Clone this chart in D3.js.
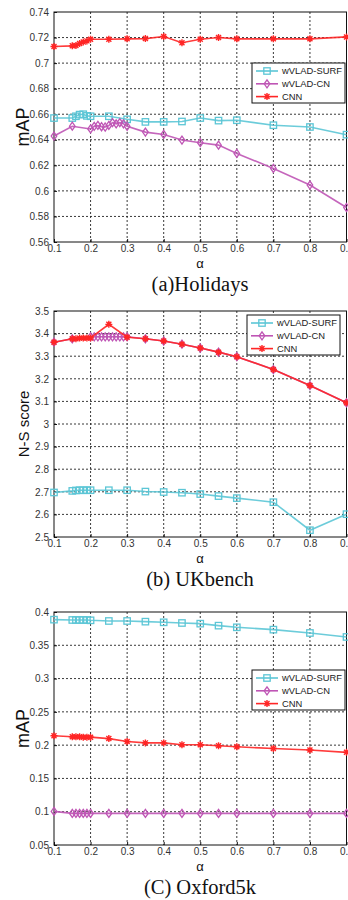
<!DOCTYPE html>
<html>
<head>
<meta charset="utf-8">
<script src="https://cdn.jsdelivr.net/npm/d3@7"></script>
<style>
  body { margin: 0; background: #fff; }
  svg { display: block; }
  .tick-lbl { font-family: 'Liberation Sans', Arial, sans-serif; font-size: 10px; fill: #333; }
  .leg-lbl { font-family: 'Liberation Sans', Arial, sans-serif; font-size: 9.4px; fill: #222; }
  .ylab { font-family: 'Liberation Sans', Arial, sans-serif; fill: #111; }
  .title { font-family: 'Liberation Serif', 'Times New Roman', serif; font-size: 20.5px; fill: #111; }
</style>
</head>
<body>
<div id="chart"></div>
<script>
// x positions (alpha)
const alphaMain = [0.1, 0.15, 0.16, 0.17, 0.18, 0.19, 0.2, 0.25, 0.3, 0.35, 0.4, 0.45, 0.5, 0.55, 0.6, 0.7, 0.8, 0.9]
const alphaDense = [0.1, 0.15, 0.2, 0.21, 0.22, 0.23, 0.24, 0.25, 0.26, 0.27, 0.28, 0.29, 0.3, 0.35, 0.4, 0.45, 0.5, 0.55, 0.6, 0.7, 0.8, 0.9]
const xTicks = [0.1, 0.2, 0.3, 0.4, 0.5, 0.6, 0.7, 0.8, 0.9]

// (a) Holidays
const holSurf = [0.657, 0.657, 0.6584, 0.6597, 0.660, 0.6587, 0.6584, 0.6584, 0.656, 0.654, 0.654, 0.6543, 0.657, 0.655, 0.6553, 0.6514, 0.650, 0.644]
const holCN = [0.6429, 0.6506, 0.6485, 0.6505, 0.6512, 0.6502, 0.650, 0.6512, 0.6535, 0.6525, 0.6535, 0.6525, 0.6505, 0.646, 0.6442, 0.6398, 0.6377, 0.6358, 0.6293, 0.6176, 0.6046, 0.587]
const holCNN = [0.713, 0.7135, 0.7137, 0.7153, 0.7166, 0.7174, 0.7187, 0.7187, 0.719, 0.7192, 0.7208, 0.716, 0.7187, 0.720, 0.719, 0.719, 0.719, 0.7205]
const holTicks = [0.56, 0.58, 0.6, 0.62, 0.64, 0.66, 0.68, 0.7, 0.72, 0.74]

// (b) UKbench
const ukbSurf = [2.697, 2.704, 2.706, 2.707, 2.707, 2.707, 2.707, 2.707, 2.707, 2.701, 2.699, 2.696, 2.69, 2.681, 2.672, 2.654, 2.53, 2.601]
const ukbCN = [3.362, 3.377, 3.386, 3.386, 3.386, 3.386, 3.386, 3.386, 3.386, 3.386, 3.386, 3.386, 3.386, 3.377, 3.367, 3.353, 3.336, 3.318, 3.298, 3.241, 3.17, 3.094]
const ukbCNN = [3.362, 3.377, 3.377, 3.38, 3.38, 3.38, 3.381, 3.441, 3.384, 3.377, 3.367, 3.353, 3.336, 3.318, 3.298, 3.241, 3.17, 3.094]
const ukbTicks = [2.5, 2.6, 2.7, 2.8, 2.9, 3, 3.1, 3.2, 3.3, 3.4, 3.5]

// (C) Oxford5k
const oxfSurf = [0.3885, 0.388, 0.388, 0.388, 0.388, 0.388, 0.3875, 0.3865, 0.3865, 0.3855, 0.3845, 0.3835, 0.3825, 0.3795, 0.377, 0.3735, 0.3685, 0.3625]
const oxfCN = [0.1005, 0.0975, 0.0975, 0.0975, 0.0975, 0.0975, 0.0975, 0.0975, 0.0975, 0.0975, 0.0975, 0.0975, 0.0975, 0.0975, 0.0975, 0.0975, 0.0975, 0.0975]
const oxfCNN = [0.214, 0.2125, 0.2125, 0.2125, 0.212, 0.212, 0.212, 0.2098, 0.2054, 0.2034, 0.2034, 0.2005, 0.2005, 0.199, 0.1975, 0.195, 0.1926, 0.1892]
const oxfTicks = [0.05, 0.1, 0.15, 0.2, 0.25, 0.3, 0.35, 0.4]

const seriesNames = ['wVLAD-SURF', 'wVLAD-CN', 'CNN']
const colors = { 'wVLAD-SURF': '#5cc6d6', 'wVLAD-CN': '#bf55b5', CNN: '#ff2626' }

const svg = d3.select('#chart')
  .append('svg')
  .attr('width', 348)
  .attr('height', 900)

// draw one marker of a series at (0,0) inside g
function marker (g, name) {
  const c = colors[name]
  if (name === 'wVLAD-SURF') {
    g.append('rect').attr('x', -3.2).attr('y', -3.2).attr('width', 6.4).attr('height', 6.4)
      .attr('fill', 'none').attr('stroke', c).attr('stroke-width', 1.3)
  } else if (name === 'wVLAD-CN') {
    g.append('path').attr('d', 'M0,-4L2.8,0L0,4L-2.8,0Z')
      .attr('fill', 'none').attr('stroke', c).attr('stroke-width', 1.3)
  } else {
    g.append('path').attr('d', 'M0,-3.5V3.5M-3.5,0H3.5M-2.5,-2.5L2.5,2.5M-2.5,2.5L2.5,-2.5')
      .attr('stroke', c).attr('stroke-width', 1.4)
    g.append('circle').attr('r', 1.8).attr('fill', c)
  }
}

function panel (cfg) {
  const x = d3.scaleLinear().domain([0.1, 0.9]).range([54, 346.5])
  const y = d3.scaleLinear().domain(cfg.domain).range([cfg.bottom, cfg.top])
  const g = svg.append('g')

  // grid
  g.append('g').selectAll('line').data(xTicks.slice(1, -1)).join('line')
    .attr('x1', d => x(d)).attr('x2', d => x(d))
    .attr('y1', cfg.top).attr('y2', cfg.bottom)
    .attr('stroke', '#222').attr('stroke-width', 0.9).attr('stroke-dasharray', '2,2')
  g.append('g').selectAll('line').data(cfg.ticks.slice(1, -1)).join('line')
    .attr('x1', 54).attr('x2', 346.5)
    .attr('y1', d => y(d)).attr('y2', d => y(d))
    .attr('stroke', '#222').attr('stroke-width', 0.9).attr('stroke-dasharray', '2,2')

  // frame
  g.append('rect').attr('x', 54).attr('y', cfg.top)
    .attr('width', 292.5).attr('height', cfg.bottom - cfg.top)
    .attr('fill', 'none').attr('stroke', '#111').attr('stroke-width', 1)

  // axes
  const ax = g.append('g').attr('transform', `translate(0,${cfg.bottom})`)
    .call(d3.axisBottom(x).tickValues(xTicks).tickSize(-3).tickPadding(4).tickFormat(d3.format('.1f')))
  const ay = g.append('g').attr('transform', 'translate(54,0)')
    .call(d3.axisLeft(y).tickValues(cfg.ticks).tickSize(-3).tickPadding(5).tickFormat(d => String(d)))
  ;[ax, ay].forEach(a => {
    a.select('.domain').remove()
    a.selectAll('line').attr('stroke', '#111')
    a.selectAll('text').attr('class', 'tick-lbl').attr('font-size', null).attr('font-family', null).attr('fill', null)
  })
  ax.selectAll('text').attr('dy', '0.55em')

  // series
  const line = d3.line().x(d => x(d[0])).y(d => y(d[1]))
  cfg.series.forEach(s => {
    const pts = s.xs.map((a, i) => [a, s.ys[i]])
    g.append('path').datum(pts).attr('d', line)
      .attr('fill', 'none').attr('stroke', colors[s.name]).attr('stroke-width', 1.6)
      .attr('stroke-opacity', 0.9)
    g.append('g').selectAll('g').data(pts).join('g')
      .attr('transform', d => `translate(${x(d[0])},${y(d[1])})`)
      .each(function () { marker(d3.select(this), s.name) })
  })

  // legend
  const lg = g.append('g').attr('transform', `translate(${cfg.legend[0]},${cfg.legend[1]})`)
  lg.append('rect').attr('width', 93).attr('height', 40)
    .attr('fill', '#fff').attr('stroke', '#111').attr('stroke-width', 1)
  seriesNames.forEach((n, i) => {
    const row = lg.append('g').attr('transform', `translate(0,${8 + i * 12.8})`)
    row.append('line').attr('x1', 4).attr('x2', 26)
      .attr('stroke', colors[n]).attr('stroke-width', 1.6)
    marker(row.append('g').attr('transform', 'translate(15,0)'), n)
    row.append('text').attr('class', 'leg-lbl').attr('x', 30).attr('dy', '0.35em').text(n)
  })

  // labels
  g.append('text').attr('class', 'ylab')
    .attr('font-size', cfg.ylabSize)
    .attr('text-anchor', 'middle')
    .attr('transform', `translate(${cfg.ylabX},${(cfg.top + cfg.bottom) / 2}) rotate(-90)`)
    .text(cfg.ylab)
  g.append('text').attr('class', 'ylab').attr('font-size', 13)
    .attr('text-anchor', 'middle').attr('x', 200).attr('y', cfg.bottom + 26)
    .text('α')
  g.append('text').attr('class', 'title').attr('text-anchor', 'middle')
    .attr('x', 200).attr('y', cfg.bottom + 49)
    .text(cfg.title)
}

panel({
  domain: [0.56, 0.74], ticks: holTicks, top: 12, bottom: 242,
  ylab: 'mAP', ylabSize: 18, ylabX: 29,
  legend: [252, 63], title: '(a)Holidays',
  series: [
    { name: 'wVLAD-SURF', xs: alphaMain, ys: holSurf },
    { name: 'wVLAD-CN', xs: alphaDense, ys: holCN },
    { name: 'CNN', xs: alphaMain, ys: holCNN }
  ]
})

panel({
  domain: [2.5, 3.5], ticks: ukbTicks, top: 311, bottom: 537,
  ylab: 'N-S score', ylabSize: 15, ylabX: 29,
  legend: [247, 315], title: '(b) UKbench',
  series: [
    { name: 'wVLAD-SURF', xs: alphaMain, ys: ukbSurf },
    { name: 'wVLAD-CN', xs: alphaDense, ys: ukbCN },
    { name: 'CNN', xs: alphaMain, ys: ukbCNN }
  ]
})

panel({
  domain: [0.05, 0.4], ticks: oxfTicks, top: 612, bottom: 845,
  ylab: 'mAP', ylabSize: 18, ylabX: 29,
  legend: [252, 670], title: '(C) Oxford5k',
  series: [
    { name: 'wVLAD-SURF', xs: alphaMain, ys: oxfSurf },
    { name: 'wVLAD-CN', xs: alphaMain, ys: oxfCN },
    { name: 'CNN', xs: alphaMain, ys: oxfCNN }
  ]
})
</script>
</body>
</html>
